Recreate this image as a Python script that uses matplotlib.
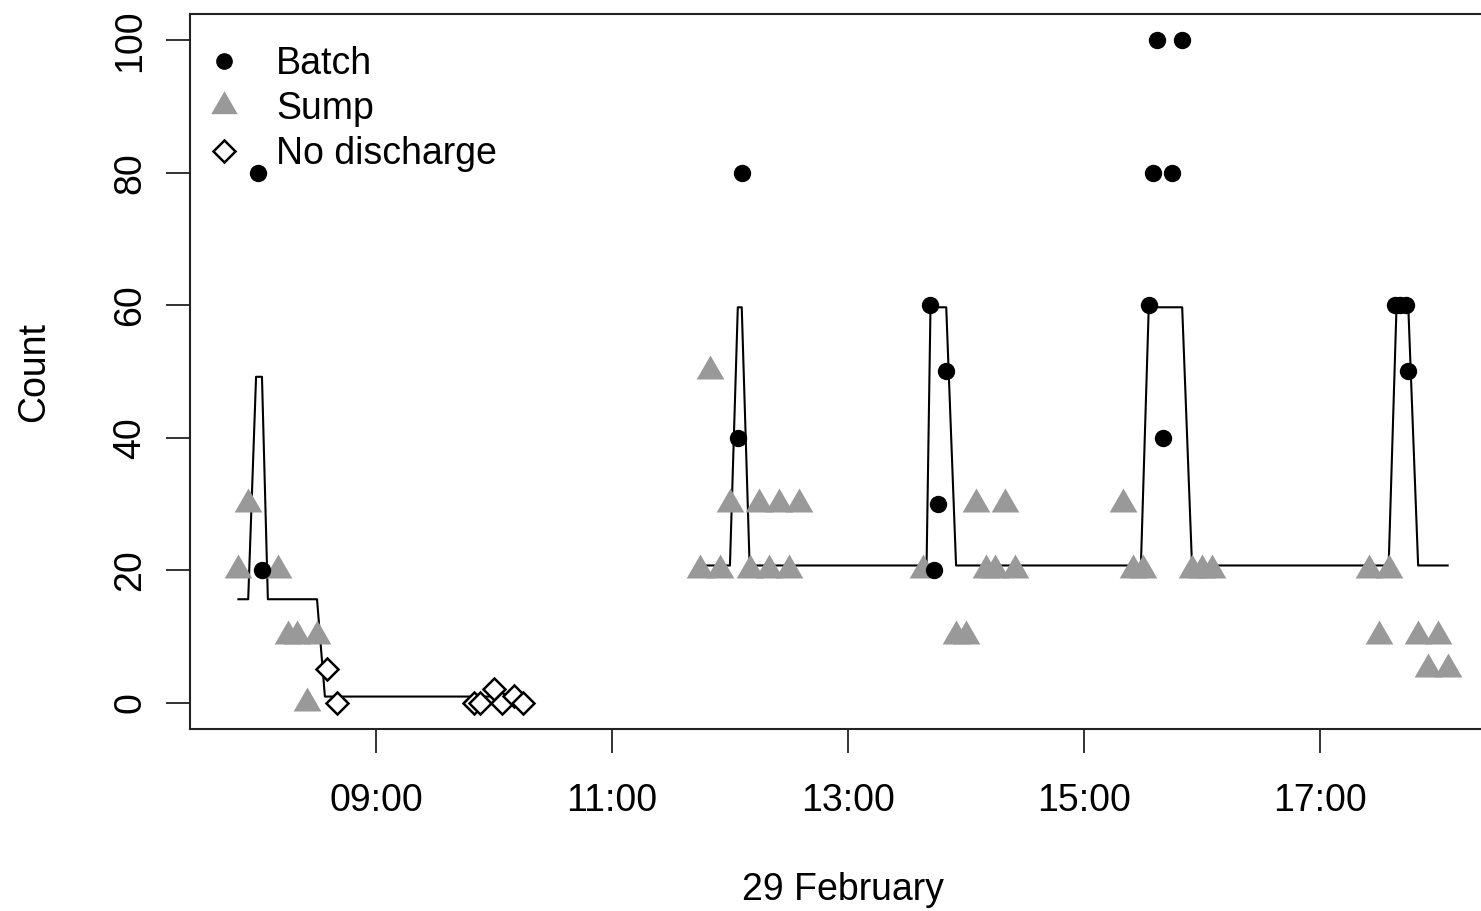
import numpy as np
import pandas as pd
import matplotlib
matplotlib.use("Agg")
import matplotlib.pyplot as plt
import matplotlib.dates as mdates
from matplotlib.lines import Line2D

plt.rcParams['font.family'] = ['Liberation Sans', 'DejaVu Sans']

day = "2012-02-29 "

# Batch discharges (black circles)
batch_time = ["08:00", "08:02", "12:04", "12:06", "13:42", "13:44", "13:46", "13:50",
              "15:33", "15:35", "15:37", "15:40", "15:45", "15:50",
              "17:38", "17:41", "17:44", "17:45"]
batch_count = [80, 20, 40, 80, 60, 20, 30, 50,
               60, 80, 100, 40, 80, 100,
               60, 60, 60, 50]

# Sump discharges (grey triangles)
sump_time = ["07:50", "07:55", "08:10", "08:15", "08:20", "08:25", "08:30",
             "11:45", "11:50", "11:55", "12:00", "12:10", "12:15", "12:20", "12:25", "12:30", "12:35",
             "13:38", "13:55", "14:00", "14:05", "14:10", "14:15", "14:20", "14:25",
             "15:20", "15:25", "15:30", "15:55", "16:00", "16:05",
             "17:25", "17:30", "17:35", "17:50", "17:55", "18:00", "18:05"]
sump_count = [20, 30, 20, 10, 10, 0, 10,
              20, 50, 20, 30, 20, 30, 20, 30, 20, 30,
              20, 10, 10, 30, 20, 20, 30, 20,
              30, 20, 20, 20, 20, 20,
              20, 10, 20, 10, 5, 10, 5]

# No discharge (open diamonds)
nodis_time = ["08:35", "08:40", "09:50", "09:53", "10:00", "10:04", "10:10", "10:15"]
nodis_count = [5, 0, 0, 0, 2, 0, 1, 0]

# fitted line, morning and afternoon pieces
fit_am_time = ["07:50", "07:55", "07:59", "08:02", "08:05", "08:30", "08:34", "10:15"]
fit_am = [15.6, 15.6, 49.2, 49.2, 15.6, 15.6, 0.9, 0.9]
fit_pm_time = ["11:45", "12:00", "12:04", "12:06", "12:10", "13:40", "13:42", "13:50", "13:55",
               "15:29", "15:33", "15:50", "15:55", "17:35", "17:39", "17:45", "17:50", "18:05"]
fit_pm = [20.7, 20.7, 59.7, 59.7, 20.7, 20.7, 59.7, 59.7, 20.7,
          20.7, 59.7, 59.7, 20.7, 20.7, 59.7, 59.7, 20.7, 20.7]


def to_dt(times):
    return pd.to_datetime([day + t for t in times])


fig = plt.figure(figsize=(14.81, 9.11), dpi=100)
ax = fig.add_axes([190 / 1481, 1 - 729 / 911, 1306 / 1481, 715 / 911])

tri = [(0, 0.577), (-0.5, -0.289), (0.5, -0.289)]

ax.plot(to_dt(fit_am_time), fit_am, color="black", lw=1.5)
ax.plot(to_dt(fit_pm_time), fit_pm, color="black", lw=1.5)
ax.plot(to_dt(sump_time), sump_count, linestyle="none", marker=tri, markersize=23,
        color="#999999", mec="none")
ax.plot(to_dt(batch_time), batch_count, linestyle="none", marker="o", markersize=12.5,
        color="black", mec="none")
ax.plot(to_dt(nodis_time), nodis_count, linestyle="none", marker="D", markersize=11.5,
        mfc="white", mec="black", mew=1.8)

ax.set_xmargin(0.04)
ax.set_ymargin(0.04)

ax.xaxis.set_major_locator(mdates.HourLocator(byhour=[9, 11, 13, 15, 17]))
ax.xaxis.set_major_formatter(mdates.DateFormatter("%H:%M"))
ax.set_yticks([0, 20, 40, 60, 80, 100])

ax.tick_params(axis="both", length=17, width=1.3, labelsize=27, color="#222222")
ax.tick_params(axis="x", pad=22)
ax.tick_params(axis="y", pad=13, labelrotation=90)
for lab in ax.get_yticklabels():
    lab.set_va("center")

for s in ax.spines.values():
    s.set_linewidth(1.5)
    s.set_color("#222222")

ax.set_xlabel("29 February", fontsize=27, labelpad=38)
ax.set_ylabel("Count", fontsize=27, labelpad=43)

handles = [
    Line2D([], [], linestyle="none", marker="o", markersize=12, color="black", mec="none"),
    Line2D([], [], linestyle="none", marker=tri, markersize=22, color="#999999", mec="none"),
    Line2D([], [], linestyle="none", marker="D", markersize=11, mfc="white", mec="black", mew=1.8),
]
ax.legend(handles, ["Batch", "Sump", "No discharge"], loc="upper left",
          bbox_to_anchor=(205 / 1481, 1 - 46 / 911), bbox_transform=fig.transFigure,
          frameon=False, fontsize=27, handlelength=1.0, handletextpad=0.89,
          labelspacing=0.24, borderpad=0, borderaxespad=0)

fig.savefig("out.png", dpi=100)
